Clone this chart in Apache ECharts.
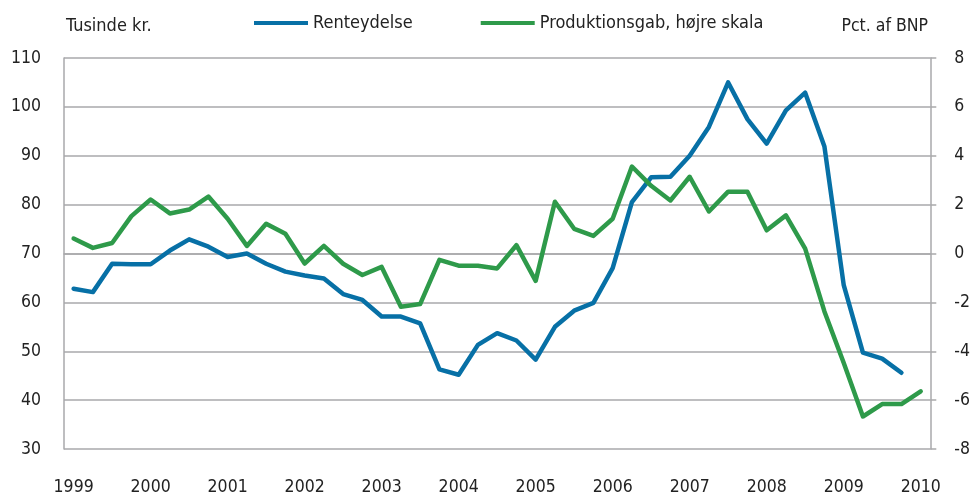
<!DOCTYPE html>
<html>
<head>
<meta charset="utf-8">
<script src="https://cdn.jsdelivr.net/npm/echarts@6/dist/echarts.min.js"></script>
<style>
html,body{margin:0;padding:0;background:#fff;}
#chart{width:973px;height:496px;}
</style>
</head>
<body>
<div id="chart"></div>
<script>
var categories = [
 '1999K1','1999K2','1999K3','1999K4',
 '2000K1','2000K2','2000K3','2000K4',
 '2001K1','2001K2','2001K3','2001K4',
 '2002K1','2002K2','2002K3','2002K4',
 '2003K1','2003K2','2003K3','2003K4',
 '2004K1','2004K2','2004K3','2004K4',
 '2005K1','2005K2','2005K3','2005K4',
 '2006K1','2006K2','2006K3','2006K4',
 '2007K1','2007K2','2007K3','2007K4',
 '2008K1','2008K2','2008K3','2008K4',
 '2009K1','2009K2','2009K3','2009K4',
 '2010K1'
];
var renteydelse = [
 62.8, 62.1, 67.9, 67.8,
 67.8, 70.6, 72.9, 71.4,
 69.3, 70.0, 67.9, 66.3,
 65.5, 64.9, 61.7, 60.5,
 57.1, 57.1, 55.7, 46.3,
 45.2, 51.3, 53.7, 52.2,
 48.3, 55.0, 58.3, 59.9,
 67.0, 80.5, 85.6, 85.7,
 90.0, 95.9, 105.0, 97.5,
 92.5, 99.3, 102.9, 91.9,
 63.6, 49.7, 48.5, 45.6
];
var produktionsgab = [
 0.61, 0.23, 0.43, 1.53,
 2.21, 1.64, 1.80, 2.33,
 1.42, 0.31, 1.22, 0.81,
 -0.41, 0.31, -0.42, -0.88,
 -0.55, -2.18, -2.07, -0.26,
 -0.50, -0.50, -0.61, 0.34,
 -1.12, 2.12, 1.01, 0.72,
 1.42, 3.56, 2.77, 2.17,
 3.14, 1.72, 2.53, 2.53,
 0.95, 1.56, 0.20, -2.37,
 -4.47, -6.67, -6.16, -6.16,
 -5.64
];
var leftTicks = {min: 30, max: 110, interval: 10};
var rightTicks = {min: -8, max: 8, interval: 2};
var seriesNames = ['Renteydelse', 'Produktionsgab, højre skala'];
var leftUnit = 'Tusinde kr.';
var rightUnit = 'Pct. af BNP';

var FONT = '"Liberation Sans Narrow", "DejaVu Sans Condensed", sans-serif';
var TXT = '#222';
var GRIDC = '#a9a9ab';

var chart = echarts.init(document.getElementById('chart'), null, {renderer: 'canvas'});
chart.setOption({
  animation: false,
  textStyle: {fontFamily: FONT, color: TXT},
  grid: {left: 64, right: 40, top: 58, bottom: 44, containLabel: false},
  legend: {
    left: 249, top: 9,
    icon: 'rect', itemWidth: 54, itemHeight: 4, itemGap: 68,
    textStyle: {fontFamily: FONT, fontSize: 18, color: TXT},
    data: seriesNames
  },
  graphic: [
    {type: 'text', left: 66, top: 17, style: {text: leftUnit, font: '18px ' + FONT, fill: TXT}},
    {type: 'text', right: 45, top: 17, style: {text: rightUnit, font: '17.5px ' + FONT, fill: TXT}}
  ],
  xAxis: {
    type: 'category', data: categories, boundaryGap: true,
    axisLine: {show: true, lineStyle: {color: GRIDC, width: 1.5}},
    axisTick: {show: false},
    axisLabel: {
      interval: 3, margin: 29, fontSize: 17.5, fontFamily: FONT, color: TXT,
      formatter: function (v) { return v.slice(0, 4); }
    },
    splitLine: {show: false}
  },
  yAxis: [
    {
      type: 'value', position: 'left',
      min: leftTicks.min, max: leftTicks.max, interval: leftTicks.interval,
      axisLine: {show: true, lineStyle: {color: GRIDC, width: 1.5}},
      axisTick: {show: false},
      axisLabel: {margin: 23, fontSize: 17.5, fontFamily: FONT, color: TXT},
      splitLine: {show: true, lineStyle: {color: GRIDC, width: 1.5}}
    },
    {
      type: 'value', position: 'right',
      min: rightTicks.min, max: rightTicks.max, interval: rightTicks.interval,
      axisLine: {show: true, lineStyle: {color: GRIDC, width: 1.5}},
      axisTick: {show: true, length: 6, lineStyle: {color: GRIDC, width: 1.5}},
      axisLabel: {margin: 24, fontSize: 17.5, fontFamily: FONT, color: TXT},
      splitLine: {show: false}
    }
  ],
  series: [
    {
      name: seriesNames[0], type: 'line', yAxisIndex: 0, data: renteydelse,
      showSymbol: false, symbol: 'none',
      lineStyle: {color: '#0770a6', width: 4.5, join: 'round', cap: 'round'},
      itemStyle: {color: '#0770a6'}
    },
    {
      name: seriesNames[1], type: 'line', yAxisIndex: 1, data: produktionsgab,
      showSymbol: false, symbol: 'none',
      lineStyle: {color: '#2e9a4a', width: 4.5, join: 'round', cap: 'round'},
      itemStyle: {color: '#2e9a4a'}
    }
  ]
});
</script>
</body>
</html>
